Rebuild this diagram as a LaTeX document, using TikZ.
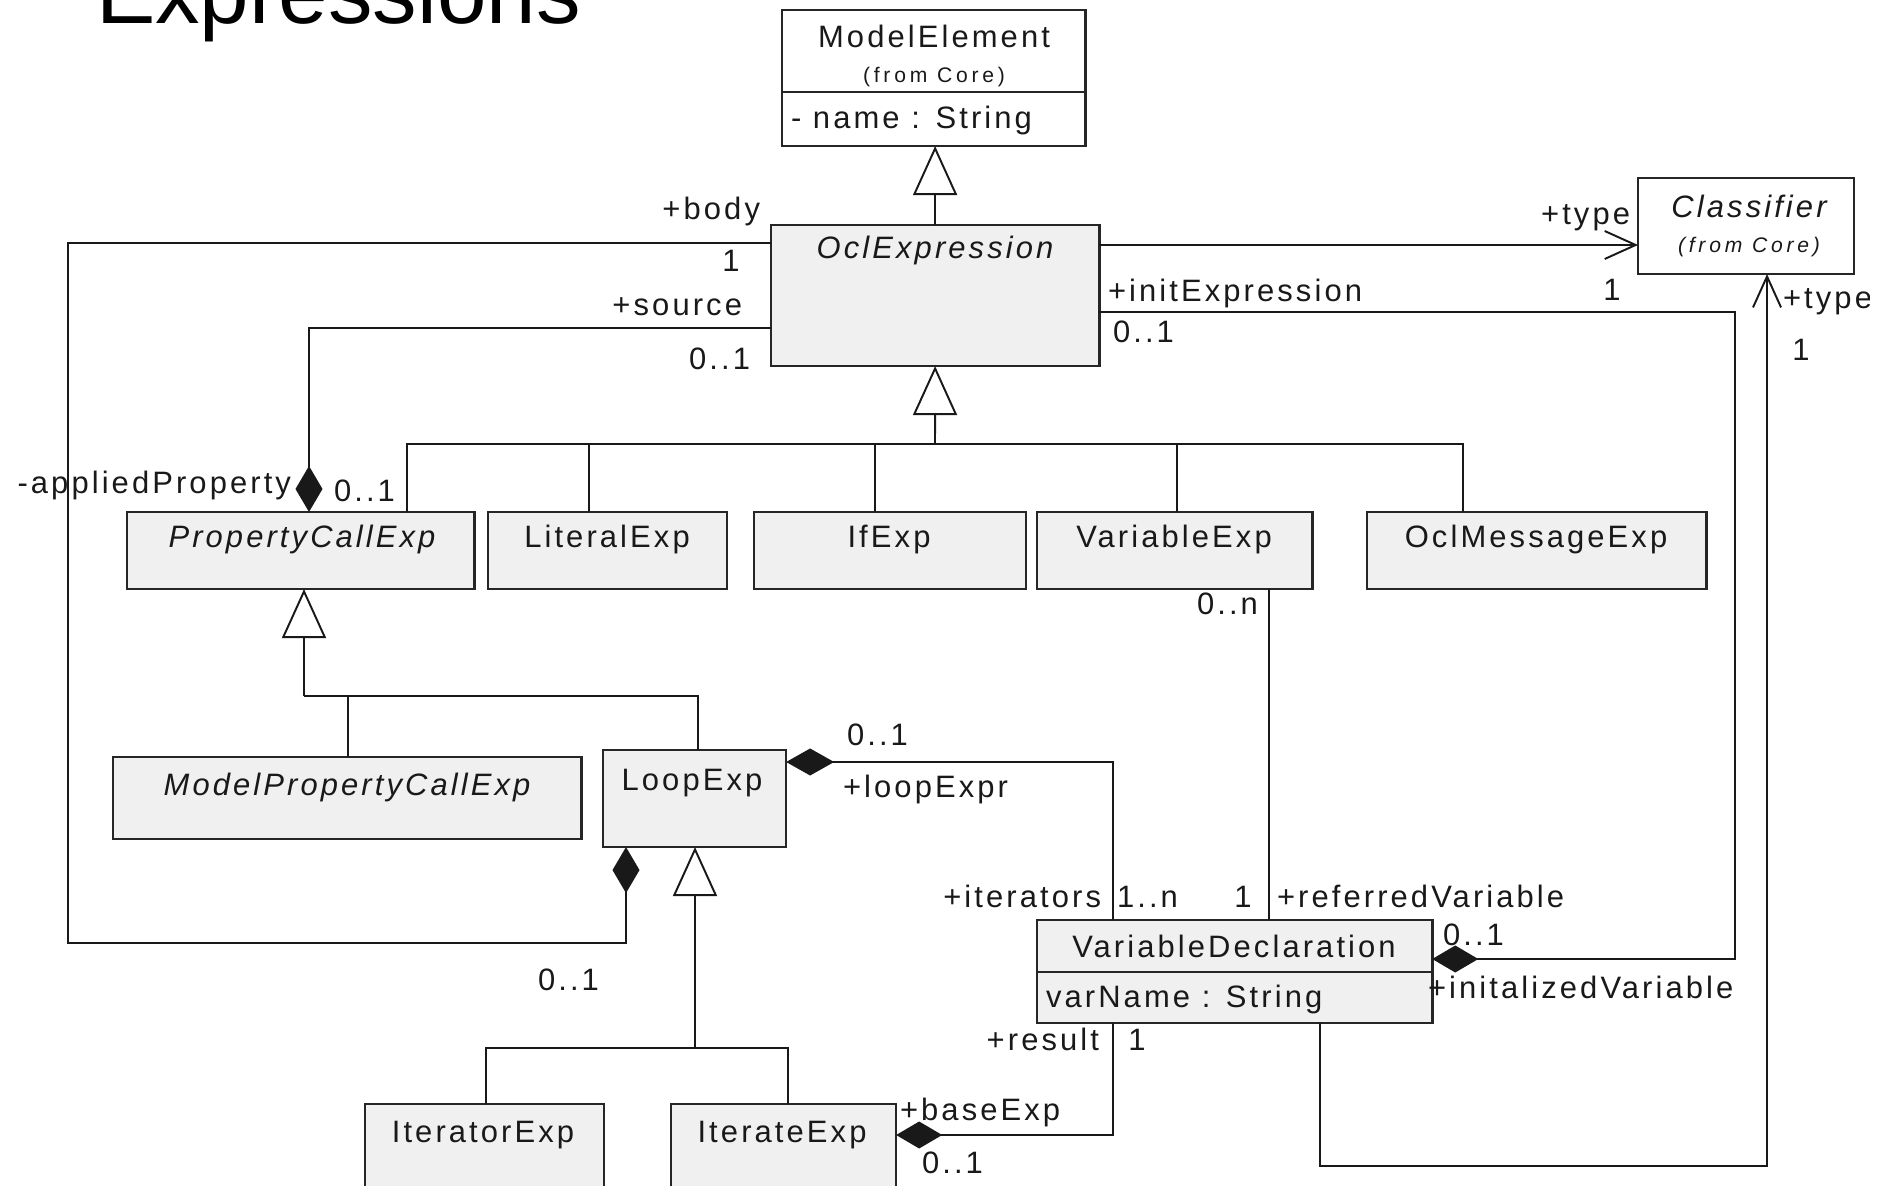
\documentclass[tikz,border=0pt]{standalone}
\usepackage{fontspec}
\setmainfont{Liberation Sans}
\newfontfamily\umlfont[LetterSpace=10]{Liberation Sans}
\newfontfamily\umlsmallfont[LetterSpace=18]{Liberation Sans}
\usetikzlibrary{arrows.meta,calc}

\begin{document}
\begin{tikzpicture}[x=0.01cm,y=-0.01cm,
  every node/.style={inner sep=0pt, outer sep=0pt},
  clsbox/.style={draw=black!85, line width=0.75pt, fill=gray!12, anchor=north west},
  plainbox/.style={clsbox, fill=white},
  lbl/.style={font=\umlfont\fontsize{8.8pt}{10pt}\selectfont, text=black!90},
  sml/.style={font=\umlsmallfont\fontsize{6pt}{7pt}\selectfont, text=black!90},
  conn/.style={draw=black!90, line width=0.55pt},
  genhead/.style={conn, -{Triangle[open, length=0.49cm, width=0.44cm, fill=white]}},
  compend/.style={conn, -{Diamond[length=0.46cm, width=0.27cm]}},
  compstart/.style={conn, {Diamond[length=0.48cm, width=0.27cm]}-},
  navhead/.style={conn, -{Straight Barb[length=0.31cm, width=0.28cm]}},
]
\useasboundingbox (0,0) rectangle (1892,1186);

% title (cut by the top edge)
\node[anchor=base west, font=\fontsize{25.3pt}{30pt}\selectfont] (title) at (96,24) {Expressions};

% ---------- classes ----------
\node[plainbox, minimum width=3.03cm, minimum height=1.36cm] (me) at (782,10) {};
\coordinate (mesep) at (0,92);
\draw[draw=black!85, line width=0.75pt] (me.west |- mesep) -- (me.east |- mesep);
\node[lbl, anchor=base] (me-t) at (934,48) {ModelElement};
\node[sml, anchor=base] (me-f) at (934,83) {(from Core)};
\node[lbl, anchor=base west] (me-a) at (791,129) {- name : String};

\node[clsbox, minimum width=3.28cm, minimum height=1.41cm] (ocl) at (771,225) {};
\node[lbl, anchor=base] (ocl-t) at (935,259) {\itshape OclExpression};

\node[plainbox, minimum width=2.16cm, minimum height=0.96cm] (cls) at (1638,178) {};
\node[lbl, anchor=base] (cls-t) at (1749,218) {\itshape Classifier};
\node[sml, anchor=base] (cls-f) at (1749,253) {\itshape (from Core)};

\node[clsbox, minimum width=3.47cm, minimum height=0.77cm] (pce) at (127,512) {};
\node[lbl, anchor=base] (pce-t) at (302,548) {\itshape PropertyCallExp};
\node[clsbox, minimum width=2.39cm, minimum height=0.77cm] (lit) at (488,512) {};
\node[lbl, anchor=base] (lit-t) at (607,548) {LiteralExp};
\node[clsbox, minimum width=2.72cm, minimum height=0.77cm] (ifx) at (754,512) {};
\node[lbl, anchor=base] (ifx-t) at (889,548) {IfExp};
\node[clsbox, minimum width=2.75cm, minimum height=0.77cm] (ve) at (1037,512) {};
\node[lbl, anchor=base] (ve-t) at (1174,548) {VariableExp};
\node[clsbox, minimum width=3.39cm, minimum height=0.77cm] (ome) at (1367,512) {};
\node[lbl, anchor=base] (ome-t) at (1536,548) {OclMessageExp};

\node[clsbox, minimum width=4.68cm, minimum height=0.82cm] (mpce) at (113,757) {};
\node[lbl, anchor=base] (mpce-t) at (347,795) {\itshape ModelPropertyCallExp};
\node[clsbox, minimum width=1.83cm, minimum height=0.97cm] (loop) at (603,750) {};
\node[lbl, anchor=base] (loop-t) at (692,790) {LoopExp};

\node[clsbox, minimum width=2.39cm, minimum height=1.2cm] (itr) at (365,1104) {};
\node[lbl, anchor=base] (itr-t) at (483,1142) {IteratorExp};
\node[clsbox, minimum width=2.25cm, minimum height=1.2cm] (itx) at (671,1104) {};
\node[lbl, anchor=base] (itx-t) at (782,1142) {IterateExp};

\node[clsbox, minimum width=3.95cm, minimum height=1.03cm] (vd) at (1037,920) {};
\coordinate (vdsep) at (0,972);
\draw[draw=black!85, line width=0.75pt] (vd.west |- vdsep) -- (vd.east |- vdsep);
\node[lbl, anchor=base] (vd-t) at (1234,957) {VariableDeclaration};
\node[lbl, anchor=base west] (vd-a) at (1046,1007) {varName : String};

% ---------- generalizations ----------
\draw[genhead] (ocl.north) -- (ocl.north |- me.south);

\coordinate (g0) at (935,444);
\coordinate (bl) at (407,444);
\coordinate (br) at (1463,444);
\draw[genhead] (g0) -- (ocl.south);
\draw[conn] (pce.north -| bl) -- (bl) -- (br) -- (ome.north -| br);
\coordinate (blit) at (589,444);
\coordinate (bifx) at (875,444);
\coordinate (bve) at (1177,444);
\draw[conn] (blit) -- (lit.north -| blit);
\draw[conn] (bifx) -- (ifx.north -| bifx);
\draw[conn] (bve) -- (ve.north -| bve);

\coordinate (pg) at (304,696);
\coordinate (pl) at (348,696);
\coordinate (pr) at (698,696);
\draw[genhead] (pg) -- (pce.south -| pg);
\draw[conn] (pg) -- (pr) -- (loop.north -| pr);
\draw[conn] (pl) -- (mpce.north -| pl);

\coordinate (lg) at (695,1048);
\coordinate (ll) at (486,1048);
\coordinate (lr) at (788,1048);
\draw[genhead] (lg) -- (loop.south -| lg);
\draw[conn] (itr.north -| ll) -- (ll) -- (lr) -- (itx.north -| lr);

% ---------- associations ----------
% body
\coordinate (bda) at (68,243);
\coordinate (bdb) at (68,943);
\coordinate (bdc) at (626,943);
\draw[compend] (bda -| ocl.west) -- (bda) -- (bdb) -- (bdc) -- (loop.south -| bdc);
\node[lbl, anchor=base east] (l-body) at (760,220) {+body};
\node[lbl, anchor=base] (l-body1) at (731,272) {1};
\node[lbl, anchor=base west] (l-body01) at (538,990) {0..1};

% source / appliedProperty
\coordinate (src) at (309,328);
\draw[compend] (src -| ocl.west) -- (src) -- (pce.north -| src);
\node[lbl, anchor=base east] (l-src) at (742,316) {+source};
\node[lbl, anchor=base east] (l-src01) at (750,370) {0..1};
\node[lbl, anchor=base east] (l-ap) at (291,494) {-appliedProperty};
\node[lbl, anchor=base west] (l-ap01) at (334,502) {0..1};

% type of an expression
\coordinate (ty) at (0,245);
\draw[navhead] (ty -| ocl.east) -- (ty -| cls.west);
\node[lbl, anchor=base east] (l-type) at (1630,225) {+type};
\node[lbl, anchor=base] (l-type1) at (1612,301) {1};

% initExpression / initializedVariable
\coordinate (iea) at (1735,312);
\coordinate (ieb) at (1735,959);
\draw[compend] (iea -| ocl.east) -- (iea) -- (ieb) -- (vd.east |- ieb);
\node[lbl, anchor=base west] (l-ie) at (1108,302) {+initExpression};
\node[lbl, anchor=base west] (l-ie01) at (1113,343) {0..1};
\node[lbl, anchor=base west] (l-iv01) at (1443,945) {0..1};
\node[lbl, anchor=base west] (l-iv) at (1428,998) {+initalizedVariable};

% type of a variable
\coordinate (vta) at (1320,1166);
\coordinate (vtb) at (1767,1166);
\draw[navhead] (vd.south -| vta) -- (vta) -- (vtb) -- (cls.south -| vtb);
\begin{scope}
  \clip (0,0) rectangle (1869,1186);
  \node[lbl, anchor=base west] (l-vtype) at (1783,309) {+type};
\end{scope}
\node[lbl, anchor=base] (l-vtype1) at (1801,361) {1};

% referredVariable
\coordinate (rv) at (1269,700);
\draw[conn] (ve.south -| rv) -- (vd.north -| rv);
\node[lbl, anchor=base west] (l-rv0n) at (1197,615) {0..n};
\node[lbl, anchor=base] (l-rv1) at (1243,907) {1};
\node[lbl, anchor=base west] (l-rv) at (1277,907) {+referredVariable};

% loopExpr / iterators
\coordinate (it) at (1113,762);
\draw[compstart] (loop.east |- it) -- (it) -- (vd.north -| it);
\node[lbl, anchor=base west] (l-le01) at (847,745) {0..1};
\node[lbl, anchor=base west] (l-le) at (843,797) {+loopExpr};
\node[lbl, anchor=base east] (l-it) at (1101,907) {+iterators};
\node[lbl, anchor=base west] (l-it1n) at (1117,907) {1..n};

% result / baseExp
\coordinate (rs) at (1113,1135);
\draw[compend] (vd.south -| rs) -- (rs) -- (itx.east |- rs);
\node[lbl, anchor=base east] (l-rs) at (1099,1050) {+result};
\node[lbl, anchor=base] (l-rs1) at (1137,1050) {1};
\node[lbl, anchor=base west] (l-be) at (900,1120) {+baseExp};
\node[lbl, anchor=base west] (l-be01) at (922,1173) {0..1};
\end{tikzpicture}
\end{document}
